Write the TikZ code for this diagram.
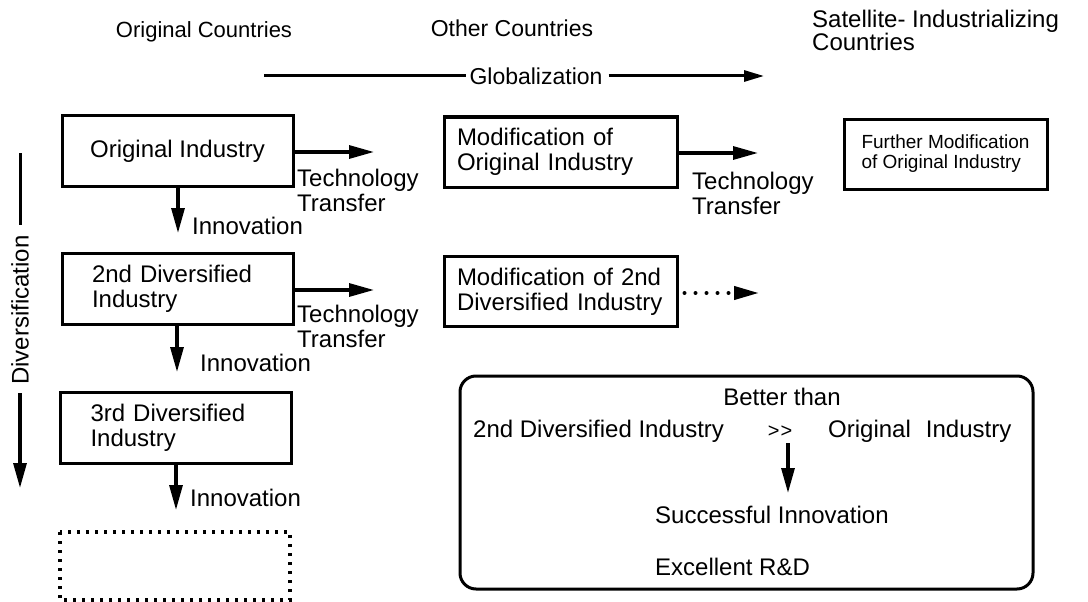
\documentclass[tikz,border=0pt]{standalone}
\usepackage{fontspec}
\setmainfont{Liberation Sans}
\usetikzlibrary{arrows.meta}

\begin{document}
\begin{tikzpicture}[x=1pt,y=-1pt,
  every node/.style={inner sep=0pt},
  big/.style={font=\fontsize{24}{25}\selectfont},
  head/.style={font=\fontsize{22}{22}\selectfont},
  small/.style={font=\fontsize{19}{20}\selectfont},
  indbox/.style={draw, line width=3pt, minimum width=231pt, minimum height=71pt, big},
  modbox/.style={draw, line width=3pt, minimum width=233pt, minimum height=70pt, big,
                 align=left, text width=207pt},
  flow/.style={line width=3.2pt, -{Triangle[length=25pt,width=13pt]}},
  dotflow/.style={line width=4pt, dash pattern=on 0pt off 11pt, line cap=round,
                  -{Triangle[length=25pt,width=13pt]}},
  thinflow/.style={line width=3pt, -{Triangle[length=20pt,width=11pt]}},
]
\useasboundingbox (0,0) rectangle (1088,602);

% column headings
\node[head] (hOrig) at (204,32) {Original Countries};
\node[font=\fontsize{23}{23}\selectfont] (hOther) at (512,28) {Other Countries};
\node[font=\fontsize{24}{23}\selectfont, anchor=north west, align=left] (hSat) at (812,10)
  {Satellite- Industrializing\\Countries};

% globalization arrow
\node[font=\fontsize{23}{23}\selectfont] (glob) at (536,76) {Globalization};
\coordinate (gL) at (264,76);
\coordinate (gR) at (764,76);
\draw[line width=3pt] (gL) -- ([xshift=-3pt]glob.west);
\draw[thinflow] ([xshift=6pt]glob.east) -- (gR);

% diversification axis
\node[big, rotate=90] (div) at (20,310) {Diversification};
\coordinate (dT) at (20,153);
\coordinate (dM1) at (20,225);
\coordinate (dM2) at (20,393);
\coordinate (dB) at (20,488);
\draw[line width=3pt] (dT) -- (dM1);
\draw[flow] (dM2) -- (dB);

% original countries column
\node[indbox] (oi) at (177.5,151) {Original Industry};
\node[indbox, align=left, text width=171pt] (d2) at (177.5,289) {2nd Diversified\\Industry};
\node[indbox, align=left, text width=171pt] (d3) at (176,428) {3rd Diversified\\Industry};
\draw[line width=3.2pt, dash pattern=on 3pt off 6pt] (60,532) rectangle (290,600);

\coordinate (i1) at (178,233);
\coordinate (i2) at (177,372);
\coordinate (i3) at (176,510);
\draw[flow] (oi.south -| i1) -- (i1);
\draw[flow] (d2.south -| i2) -- (i2);
\draw[flow] (d3.south -| i3) -- (i3);
\node[big, anchor=west] (in1) at (192,226) {Innovation};
\node[big, anchor=west] (in2) at (200,363) {Innovation};
\node[big, anchor=west] (in3) at (190,498) {Innovation};

% technology transfer to other countries
\coordinate (t1) at (374,152);
\coordinate (t2) at (374,290);
\draw[flow] (oi.east |- t1) -- (t1);
\draw[flow] (d2.east |- t2) -- (t2);
\node[big, anchor=north west, align=left] (tt1) at (297,169) {Technology\\Transfer};
\node[big, anchor=north west, align=left] (tt2) at (297,305) {Technology\\Transfer};

% other countries column
\node[modbox] (m1) at (560.5,152) {Modification of\\Original Industry};
\node[modbox] (m2) at (560.5,291.5) {Modification of 2nd\\Diversified Industry};

\coordinate (t3) at (758,153);
\coordinate (t4) at (759,293);
\draw[flow] (m1.east |- t3) -- (t3);
\draw[dotflow] ([xshift=6pt]m2.east |- t4) -- (t4);
\node[big, anchor=north west, align=left] (tt3) at (692,172) {Technology\\Transfer};

% satellite countries column
\node[draw, line width=3pt, minimum width=203pt, minimum height=70pt, small, align=left]
  (fm) at (945.5,154) {Further Modification\\of Original Industry};

% comparison panel
\draw[line width=3pt, rounded corners=16pt] (460,376) rectangle (1033,589);
\node[big] (bt) at (782,397) {Better than};
\node[big, anchor=west] (lhs) at (473,431) {2nd Diversified Industry};
\node[font=\fontsize{20}{20}\selectfont] (gg) at (780,432) {{>}\kern1pt{>}};
\node[big, anchor=west] (rhs) at (828,431) {Original\hspace{0.35em} Industry};
\node[big, anchor=west] (si) at (655,515) {Successful Innovation};
\node[big, anchor=west] (rd) at (655,567) {Excellent R\&D};
\coordinate (ggB) at (788,443);
\coordinate (siTop) at (788,493);
\draw[flow] (ggB) -- (siTop);
\end{tikzpicture}
\end{document}
